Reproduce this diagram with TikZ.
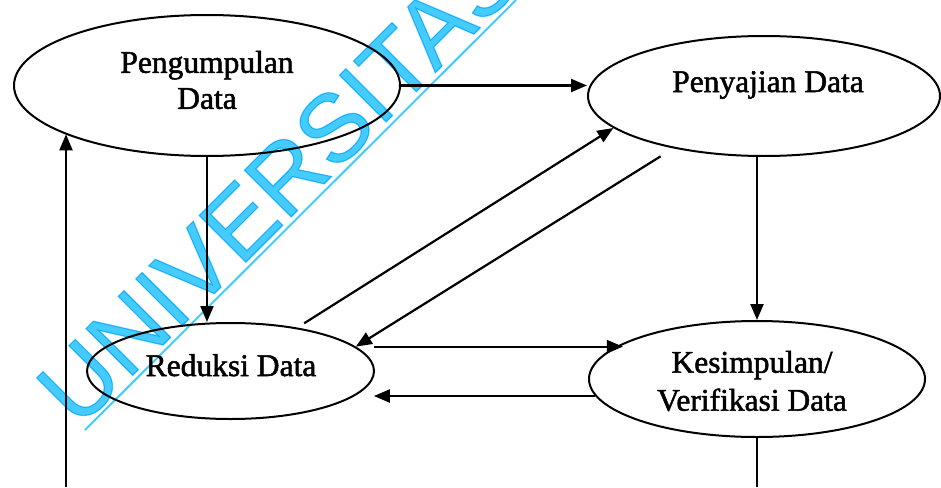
\documentclass[tikz,border=0pt]{standalone}
\usepackage{fontspec}
\setmainfont{Liberation Serif}
\newfontfamily\qafont{Liberation Serif}[FakeBold=1.6]
\newfontfamily\wmfont{Liberation Sans}[FakeBold=1.2]
\usepackage{tikz}
\usetikzlibrary{arrows.meta,shapes.geometric,calc}
\definecolor{qaInk}{HTML}{000000}
\definecolor{qaCyan}{HTML}{45CCFF}
\definecolor{qaWhite}{HTML}{FFFFFF}
\tikzset{
  qa-proc/.style={
    draw=qaInk, ellipse, line width=2pt, inner sep=0pt
  },
  qa-text/.style={font=\qafont\fontsize{31.5}{36}\selectfont, align=center,
    inner sep=0pt, text=qaInk},
  qa-flow/.style={-{Triangle[length=16pt,width=13pt]}, line width=2.2pt,
    draw=qaInk},
  qa-line/.style={line width=2.2pt, draw=qaInk},
  qa-mark/.style={font=\wmfont\fontsize{96}{96}\selectfont, text=qaCyan,
    inner sep=0pt},
  qa-mark-line/.style={draw=qaCyan, line width=2pt}
}

\begin{document}
\begin{tikzpicture}[x=1pt, y=-1pt]
\useasboundingbox[fill=qaWhite] (0,0) rectangle (941,487);

\node[qa-proc, minimum width=386pt, minimum height=141pt] (peng) at (207,85.5) {};
\node[qa-proc, minimum width=352pt, minimum height=120pt] (saji) at (764,96) {};
\node[qa-proc, minimum width=287pt, minimum height=96pt] (reduk) at (230.5,371) {};
\node[qa-proc, minimum width=336pt, minimum height=116pt] (kesim) at (757,379) {};

\node[qa-text] (pengT) at (207,80) {Pengumpulan\\Data};
\node[qa-text, anchor=base] (sajiT) at (768,92) {Penyajian Data};
\node[qa-text, anchor=base] (redukT) at (231,376) {Reduksi Data};
\node[qa-text] (kesimT) at (752,381) {Kesimpulan/\\[2pt]Verifikasi Data};

\coordinate (loopB) at (66,487);
\coordinate (kesB) at (757,487);

\draw[qa-flow] (peng.east) -- (peng.east -| saji.west);
\draw[qa-flow] (peng.south) -- (peng.south |- reduk.north);
\draw[qa-flow] (loopB) -- (loopB |- peng.199);
\draw[qa-line] (kesim.south) -- (kesB);
\draw[qa-flow] (kesim.north |- saji.south) -- (kesim.north);
\draw[qa-flow, shorten <=8pt] (reduk.33) -- (saji.192);
\draw[qa-flow, shorten <=15pt] (saji.210) -- (reduk.11);
\draw[qa-flow, shorten <=18pt] (reduk.11) -- (reduk.11 -| kesim.165);
\draw[qa-flow, shorten >=18pt] (kesim.186) -- (kesim.186 -| reduk.349);

% watermark
\begin{scope}[blend mode=multiply]
\node[qa-mark, rotate=45, anchor=base west] (wmark) at (78,430) {UNIVERSITAS};
\coordinate (wmA) at (85,430);
\coordinate (wmB) at (516,0);
\draw[qa-mark-line] (wmA) -- (wmB);
\end{scope}
\end{tikzpicture}
\end{document}
